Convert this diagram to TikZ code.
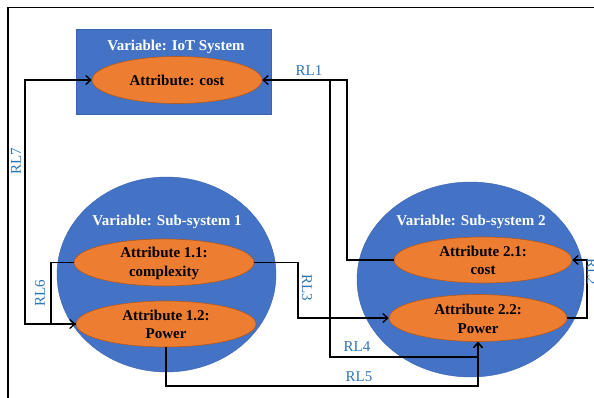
\documentclass[tikz,border=0pt]{standalone}
\usepackage{fontspec}
\setmainfont{Liberation Serif}
\usetikzlibrary{arrows.meta,shapes.geometric}
\definecolor{vblue}{HTML}{4472C4}
\definecolor{vedge}{HTML}{3A62AE}
\definecolor{aorange}{HTML}{ED7D31}
\definecolor{aedge}{HTML}{B05A22}
\definecolor{rlblue}{HTML}{2E75B6}
\begin{document}
\begin{tikzpicture}[x=1pt,y=-1pt,
  conn/.style={line width=1.3pt, draw=black},
  arr/.style={conn,-{Straight Barb[length=5pt,width=9pt]}},
  bigvar/.style={ellipse, fill=vblue, draw=vedge, line width=0.4pt, inner sep=0pt},
  attrshape/.style={ellipse, fill=aorange, draw=aedge, line width=0.6pt, inner sep=0pt},
  vtitle/.style={text=white, font=\fontsize{15}{18}\selectfont\bfseries, inner sep=0pt},
  attrtext/.style={text=black, font=\fontsize{15}{18.5}\selectfont\bfseries, align=center, inner sep=0pt},
  rl/.style={text=rlblue, font=\fontsize{15}{18}\selectfont, inner sep=0pt}
]
\useasboundingbox (0,0) rectangle (594,397);
\fill[white] (0,0) rectangle (594,397);
% frame
\draw[line width=1.6pt] (8,400) -- (8,7.5) -- (600,7.5);

% IoT system
\node[rectangle, fill=vblue, draw=vedge, line width=0.4pt, minimum width=195pt, minimum height=85pt, inner sep=0pt] (iot) at (173.5,71.5) {};
\node[vtitle] (iott) at (176,47) {Variable: IoT System};
\node[attrshape, minimum width=170pt, minimum height=47pt] (cost) at (177,80) {};
\node[attrtext] (costt) at (177,80) {Attribute: cost};

% Sub-system 1
\node[bigvar, minimum width=219pt, minimum height=195pt] (ss1) at (166.5,274.5) {};
\node[vtitle] (ss1t) at (167,222) {Variable: Sub-system 1};
\node[attrshape, minimum width=180pt, minimum height=47pt] (a11) at (164,262.5) {};
\node[attrtext] (a11t) at (164,263.5) {Attribute 1.1:\\complexity};
\node[attrshape, minimum width=180pt, minimum height=46pt] (a12) at (166,324) {};
\node[attrtext] (a12t) at (166,324.5) {Attribute 1.2:\\Power};

% Sub-system 2
\node[bigvar, minimum width=227pt, minimum height=195pt] (ss2) at (470.5,279.5) {};
\node[vtitle] (ss2t) at (471,222) {Variable: Sub-system 2};
\node[attrshape, minimum width=178pt, minimum height=46pt] (a21) at (483,260) {};
\node[attrtext] (a21t) at (483,260.5) {Attribute 2.1:\\cost};
\node[attrshape, minimum width=178pt, minimum height=47pt] (a22) at (478,318) {};
\node[attrtext] (a22t) at (478,319) {Attribute 2.2:\\Power};

% corner coordinates
\coordinate (k1) at (347,80);
\coordinate (k4) at (330,80);
\coordinate (k4b) at (330,357);
\coordinate (k5) at (478,386);
\coordinate (k3) at (298,290);
\coordinate (k2) at (587,290);
\coordinate (k6) at (51,290);
\coordinate (k7) at (25,200);

% connectors
\draw[arr] (a21.west) -| (k1) -- (cost.east);
\draw[arr] (k4) -- (k4b) -| (a22.south);
\draw[arr] (a12.south) |- (k5) -- (a22.south);
\draw[arr] (a11.east) -| (k3) |- (a22.west);
\draw[arr] (a22.east) -| (k2) |- (a21.east);
\draw[arr] (a11.west) -| (k6) |- (a12.west);
\draw[arr] (a12.west) -| (k7) |- (cost.west);

% labels
\node[rl] (rl1) at (309,71) {RL1};
\node[rl, rotate=-90] (rl2) at (592,272) {RL2};
\node[rl, rotate=-90] (rl3) at (307,288) {RL3};
\node[rl] (rl4) at (357,347) {RL4};
\node[rl] (rl5) at (359,377) {RL5};
\node[rl, rotate=90] (rl6) at (40,293) {RL6};
\node[rl, rotate=90] (rl7) at (16,161) {RL7};
\end{tikzpicture}
\end{document}
